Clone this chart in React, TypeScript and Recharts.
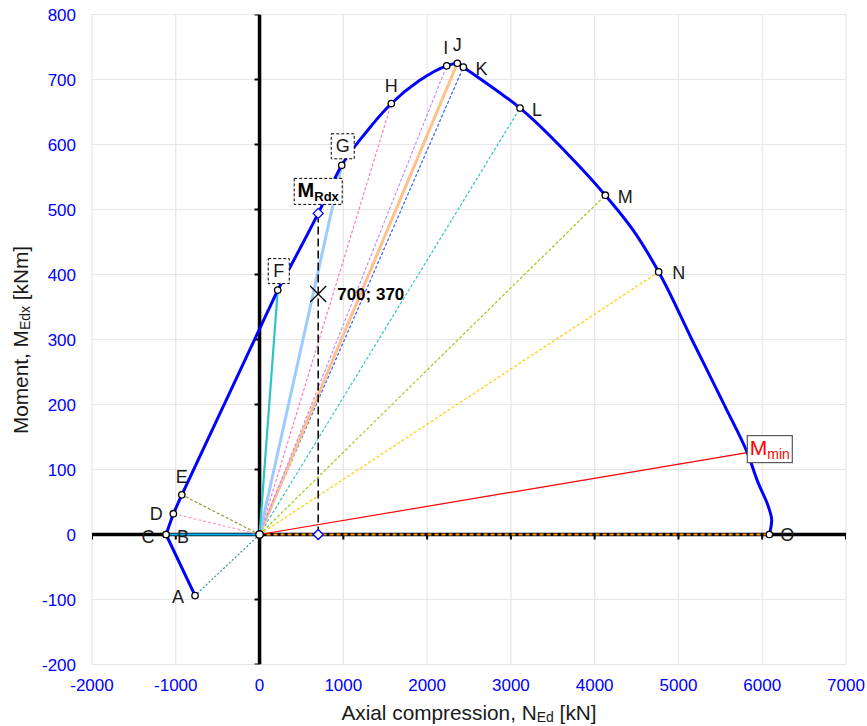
import React from 'react';
import { ScatterChart, Scatter, XAxis, YAxis, CartesianGrid } from 'recharts';

// ---------- data ----------
const xTicks = [-2000, -1000, 0, 1000, 2000, 3000, 4000, 5000, 6000, 7000];
const yTicks = [-200, -100, 0, 100, 200, 300, 400, 500, 600, 700, 800];

// interaction curve (N in kN, M in kNm), in three parts
const curveTensionN = [-770, -1116, -1029, -928, 217];
const curveTensionM = [-94, 0, 32, 61, 376];
const curveArcN = [217, 700, 981, 1279, 1573, 1904, 2234, 2361, 2433];
const curveArcM = [376, 494, 568, 620, 663, 698, 721, 725, 719];
const curveDescN = [2433, 3109, 3666, 4127, 4461, 4764, 5160, 5560, 5822, 5953, 6073, 6113, 6085];
const curveDescM = [719, 656, 587, 522, 468, 404, 300, 196, 126, 79, 43, 22, 0];

// characteristic points
const pointNames = ['A', 'B', 'C', 'D', 'E', 'F', 'G', 'H', 'I', 'J', 'K', 'L', 'M', 'N', 'O'];
const pointN = [-770, -1116, -1116, -1029, -928, 217, 981, 1573, 2234, 2361, 2433, 3109, 4127, 4764, 6085];
const pointM = [-94, 0, 0, 32, 61, 376, 568, 663, 721, 725, 719, 656, 522, 404, 0];

// design values
const designN = [700];
const designM = [370];
const mRdxN = [700];
const mRdxM = [494];
const mMinN = [5822];
const mMinM = [126];

// ---------- styles ----------
const FONT = '"Liberation Sans", Arial, Helvetica, sans-serif';

const fanStyles: Record<string, { stroke: string; w: number; dash?: string }> = {
  A: { stroke: '#2f9a9a', w: 1.3, dash: '2 2' },
  B: { stroke: '#00b0f0', w: 2 },
  D: { stroke: '#ff9ccc', w: 1.2, dash: '3 2' },
  E: { stroke: '#9a9a2e', w: 1.2, dash: '3 2' },
  F: { stroke: '#2ec4c4', w: 2.2 },
  G: { stroke: '#9ecbff', w: 3 },
  H: { stroke: '#ff77c0', w: 1.2, dash: '3 2' },
  I: { stroke: '#c08cff', w: 1.2, dash: '3 2' },
  J: { stroke: '#ffc08a', w: 3 },
  K: { stroke: '#3060ff', w: 1.2, dash: '3 2' },
  L: { stroke: '#30c4cc', w: 1.2, dash: '3 2' },
  M: { stroke: '#99cc11', w: 1.2, dash: '3 2' },
  N: { stroke: '#ffcc00', w: 1.2, dash: '3 2' },
  O: { stroke: '#ff9900', w: 2, dash: '4 3' },
};

const labelOffsets: Record<string, [number, number]> = {
  A: [-17, 1], B: [17, 2], C: [-18, 2], D: [-17, 0], E: [0, -18],
  F: [1, -19], G: [1, -19], H: [0, -18], I: [-1, -18], J: [0, -18],
  K: [18, 2], L: [17, 2], M: [20, 2], N: [20, 1], O: [18, 0],
};
const boxed: Record<string, [number, number]> = { F: [21, 25], G: [23, 25] };

const toPts = (xs: number[], ys: number[], names?: string[]) =>
  xs.map((x, i) => ({ x, y: ys[i], name: names ? names[i] : undefined }));

const pointData = toPts(pointN, pointM, pointNames);

const noShape = () => <g />;

const CircleMarker = (p: any) => (
  <circle cx={p.cx} cy={p.cy} r={3.2} fill="#fff" stroke="#000" strokeWidth={1.3} />
);
const OriginMarker = (p: any) => (
  <circle cx={p.cx} cy={p.cy} r={3.8} fill="#fff" stroke="#000" strokeWidth={1.5} />
);
const DiamondMarker = (p: any) => (
  <path
    d={`M${p.cx},${p.cy - 5} L${p.cx + 5},${p.cy} L${p.cx},${p.cy + 5} L${p.cx - 5},${p.cy} Z`}
    fill="#fff"
    stroke="#0000ff"
    strokeWidth={1.3}
  />
);
const CrossMarker = (p: any) => (
  <g stroke="#000" strokeWidth={1.2}>
    <line x1={p.cx - 8} y1={p.cy - 8} x2={p.cx + 8} y2={p.cy + 8} />
    <line x1={p.cx - 8} y1={p.cy + 8} x2={p.cx + 8} y2={p.cy - 8} />
    <text x={p.cx + 19} y={p.cy} dominantBaseline="central" fontFamily={FONT} fontSize={17} fontWeight="bold" fill="#000" stroke="none">
      {`${p.payload.x}; ${p.payload.y}`}
    </text>
  </g>
);
const XTickMark = (p: any) => <line x1={p.cx} y1={p.cy} x2={p.cx} y2={p.cy + 5} stroke="#000" strokeWidth={2} />;
const YTickMark = (p: any) => <line x1={p.cx - 5} y1={p.cy} x2={p.cx} y2={p.cy} stroke="#000" strokeWidth={2} />;

const LetterLabel = (p: any) => {
  const name = p.payload?.name as string;
  const off = labelOffsets[name];
  if (!off) return <g />;
  const x = p.cx + off[0];
  const y = p.cy + off[1];
  const box = boxed[name];
  return (
    <g>
      {box && (
        <rect x={x - box[0] / 2} y={y - box[1] / 2} width={box[0]} height={box[1]} fill="#fff" stroke="#000" strokeWidth={1} strokeDasharray="3 2" />
      )}
      <text x={x} y={y} textAnchor="middle" dominantBaseline="central" fontFamily={FONT} fontSize={18} fill="#1a1a1a">
        {name}
      </text>
    </g>
  );
};

const MRdxLabel = (p: any) => {
  const x = p.cx;
  const y = p.cy - 22;
  return (
    <g>
      <rect x={x - 24} y={y - 13} width={48} height={26} fill="#fff" stroke="#000" strokeWidth={1} strokeDasharray="3 2" />
      <text x={x} y={y + 6} textAnchor="middle" fontFamily={FONT} fontWeight="bold" fill="#000">
        <tspan fontSize={20}>M</tspan>
        <tspan fontSize={13} dy={4}>Rdx</tspan>
      </text>
    </g>
  );
};

const MMinLabel = (p: any) => {
  const x = p.cx;
  const y = p.cy - 3.5;
  return (
    <g>
      <rect x={x} y={y - 13.5} width={45} height={27} fill="#fff" stroke="#595959" strokeWidth={1.2} />
      <text x={x + 22.5} y={y + 6} textAnchor="middle" fontFamily={FONT} fill="#ff0000">
        <tspan fontSize={21}>M</tspan>
        <tspan fontSize={14} dy={4}>min</tspan>
      </text>
    </g>
  );
};

const XTitle = () => (
  <text x={469} y={712} textAnchor="middle" dominantBaseline="central" fontFamily={FONT} fontSize={20.8} fill="#1a1a1a">
    <tspan>Axial compression, N</tspan>
    <tspan fontSize={14} dy={5}>Ed</tspan>
    <tspan dy={-5}> [kN]</tspan>
  </text>
);
const YTitle = () => (
  <text x={20} y={340} transform="rotate(-90 20 340)" textAnchor="middle" dominantBaseline="central" fontFamily={FONT} fontSize={20.8} fill="#1a1a1a">
    <tspan>Moment, M</tspan>
    <tspan fontSize={14} dy={5}>Edx</tspan>
    <tspan dy={-5}> [kNm]</tspan>
  </text>
);

const fanOrder = ['A', 'D', 'E', 'O', 'B', 'N', 'M', 'L', 'K', 'J', 'I', 'H', 'G', 'F'];

export default function App() {
  const tickStyle = { fill: '#0000ff', fontSize: 17, fontFamily: FONT };
  const curveLine = { stroke: '#0000ff', strokeWidth: 3, strokeLinejoin: 'round' as const };
  return (
    <div style={{ position: 'absolute', left: 0, top: 0, width: 867, height: 726, background: '#fff' }}>
      <ScatterChart width={867} height={726} margin={{ top: 14.5, right: 21, bottom: 21.5, left: 32 }}>
        <CartesianGrid stroke="#e6e6e6" strokeWidth={1.2} />
        <XAxis
          type="number"
          dataKey="x"
          domain={[-2000, 7000]}
          ticks={xTicks}
          allowDataOverflow
          axisLine={false}
          tickLine={false}
          tickMargin={8}
          height={40}
          tick={tickStyle}
          label={{ content: () => <XTitle /> }}
        />
        <YAxis
          type="number"
          dataKey="y"
          domain={[-200, 800]}
          ticks={yTicks}
          allowDataOverflow
          axisLine={false}
          tickLine={false}
          tickMargin={10}
          width={60}
          tick={tickStyle}
          label={{ content: () => <YTitle /> }}
        />
        {/* axes through origin */}
        <Scatter data={toPts([-2000, 7000], [0, 0])} line={{ stroke: '#000', strokeWidth: 3.5 }} shape={noShape} isAnimationActive={false} />
        <Scatter data={toPts([0, 0], [-200, 800])} line={{ stroke: '#000', strokeWidth: 3.5 }} shape={noShape} isAnimationActive={false} />
        <Scatter data={toPts(xTicks, xTicks.map(() => 0))} shape={XTickMark} isAnimationActive={false} />
        <Scatter data={toPts(yTicks.map(() => 0), yTicks)} shape={YTickMark} isAnimationActive={false} />
        {/* fan lines from origin */}
        {fanOrder.map((nm) => {
          const i = pointNames.indexOf(nm);
          const s = fanStyles[nm];
          return (
            <Scatter
              key={nm}
              data={toPts([0, pointN[i]], [0, pointM[i]])}
              line={{ stroke: s.stroke, strokeWidth: s.w, strokeDasharray: s.dash }}
              shape={noShape}
              isAnimationActive={false}
            />
          );
        })}
        <Scatter data={toPts([0, mMinN[0]], [0, mMinM[0]])} line={{ stroke: '#ff0000', strokeWidth: 1.2 }} shape={noShape} isAnimationActive={false} />
        {/* interaction curve */}
        <Scatter data={toPts(curveTensionN, curveTensionM)} line={curveLine} lineJointType="linear" shape={noShape} isAnimationActive={false} />
        <Scatter data={toPts(curveArcN, curveArcM)} line={curveLine} lineJointType="monotoneX" shape={noShape} isAnimationActive={false} />
        <Scatter data={toPts(curveDescN, curveDescM)} line={curveLine} lineJointType="monotoneY" shape={noShape} isAnimationActive={false} />
        {/* M_Rdx vertical */}
        <Scatter data={toPts([mRdxN[0], mRdxN[0]], [0, mRdxM[0]])} line={{ stroke: '#000', strokeWidth: 1.5, strokeDasharray: '8 4' }} shape={DiamondMarker} isAnimationActive={false} />
        {/* markers */}
        <Scatter data={pointData} shape={CircleMarker} isAnimationActive={false} />
        <Scatter data={toPts([0], [0])} shape={OriginMarker} isAnimationActive={false} />
        <Scatter data={toPts(designN, designM)} shape={CrossMarker} isAnimationActive={false} />
        {/* labels */}
        <Scatter data={pointData} shape={LetterLabel} isAnimationActive={false} />
        <Scatter data={toPts(mRdxN, mRdxM)} shape={MRdxLabel} isAnimationActive={false} />
        <Scatter data={toPts(mMinN, mMinM)} shape={MMinLabel} isAnimationActive={false} />
      </ScatterChart>
    </div>
  );
}
